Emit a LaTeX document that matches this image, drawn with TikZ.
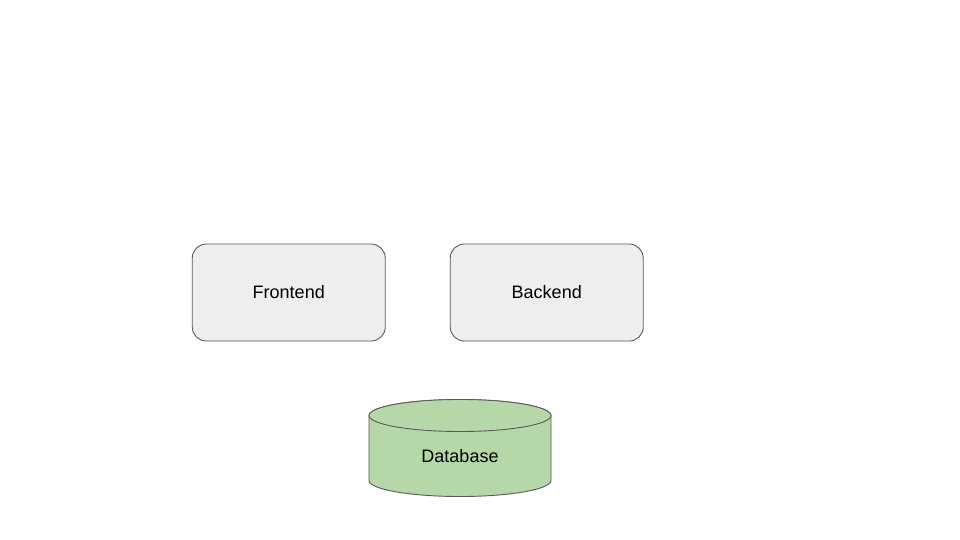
\documentclass[tikz,border=0pt]{standalone}
\usepackage{fontspec}
\setmainfont{Liberation Sans}
\definecolor{boxfill}{HTML}{EEEEEE}
\definecolor{boxline}{HTML}{595959}
\definecolor{dbfill}{HTML}{B6D7A8}
\begin{document}
\begin{tikzpicture}[x=1pt,y=-1pt,
  procbox/.style={draw=boxline,fill=boxfill,line width=0.9pt,rounded corners=14pt,minimum width=193pt,minimum height=97pt,inner sep=0pt,font=\fontsize{18}{21}\selectfont},
  dbshape/.style={draw=boxline,fill=dbfill,line width=0.9pt},
  lbl/.style={font=\fontsize{18}{21}\selectfont,inner sep=0pt}]
\useasboundingbox[fill=white] (0,0) rectangle (960,540);
\node[procbox] (frontend) at (288.75,292.5) {Frontend};
\node[procbox] (backend) at (546.75,292.5) {Backend};
% database cylinder
\path[dbshape] (369,415.5) -- (369,480.5) arc[start angle=180,end angle=0,x radius=91,y radius=16] -- (551,415.5) arc[start angle=0,end angle=-180,x radius=91,y radius=16] -- cycle;
\path[dbshape] (460,415.5) ellipse[x radius=91,y radius=16];
\node[lbl] (database) at (460,456.5) {Database};
\end{tikzpicture}
\end{document}
